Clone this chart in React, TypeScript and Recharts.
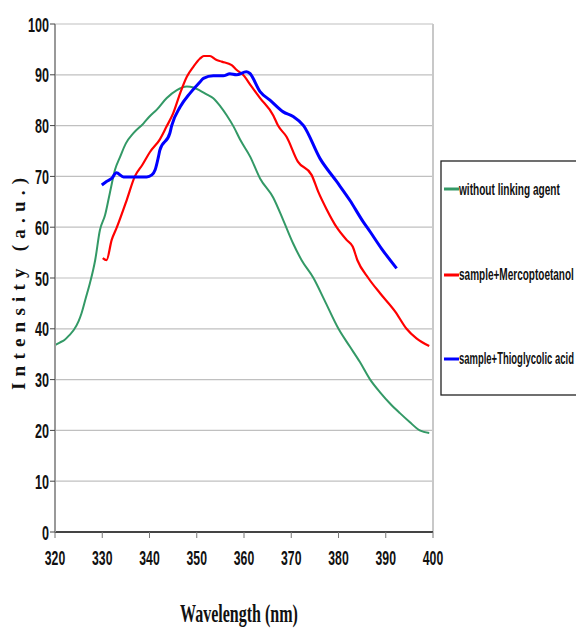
import { useLayoutEffect, useRef, useState } from "react";
import { LineChart, Line, XAxis, YAxis, CartesianGrid, ReferenceLine, Label } from "recharts";

// wavelength (nm) / intensity (a.u.) pairs
const withoutWl = [320, 321, 322, 323, 324, 325, 325.6, 326.5, 327.4, 328.5, 329.5, 330.6, 331.6, 332.7, 333.8, 335, 336.6, 338.7, 340, 341.5, 343.6, 345.8, 347.9, 349.3, 350.7, 352, 353.5, 355, 356.3, 357.8, 359.2, 361.3, 363.4, 366.2, 368.3, 370.4, 372.2, 374.7, 377, 380, 382.4, 384.5, 386.7, 388.8, 390.9, 393, 395, 397.2, 399.2];
const withoutInt = [36.8, 37.3, 37.8, 38.7, 39.8, 41.5, 43, 46, 49, 53.5, 59.4, 62.4, 66.7, 71.3, 73.9, 76.5, 78.5, 80.4, 81.8, 83.1, 85.4, 87, 87.7, 87.5, 86.9, 86.2, 85.4, 83.8, 82.1, 79.8, 77.2, 73.9, 69.6, 65.8, 61.4, 56.8, 53.5, 50, 45.7, 40, 36.5, 33.5, 30, 27.5, 25.3, 23.4, 21.7, 20, 19.5];

const mercWl = [330.1, 330.9, 332, 333.1, 335.2, 336.9, 338.5, 340.1, 342.2, 343.6, 345, 346.5, 347.9, 349.3, 350.7, 351.5, 352.8, 354, 355.3, 357.4, 358.4, 359.8, 361.5, 363.4, 366.2, 367.2, 369, 371.4, 374.3, 375.7, 377.5, 379.6, 381.7, 383, 384, 386.3, 388.8, 392, 394.4, 396.5, 399.2];
const mercInt = [53.9, 53.5, 57.5, 60, 65.4, 70, 72.3, 74.8, 77.3, 79.8, 82.4, 86.4, 89.6, 91.6, 93.2, 93.7, 93.7, 93, 92.6, 91.9, 91, 90, 87.8, 85.4, 82, 80, 77.8, 72.9, 70.3, 67, 63.5, 60, 57.5, 56.2, 53.5, 50, 47, 43.4, 40, 38.1, 36.6];

const thioWl = [329.9, 330.9, 332, 333, 334.5, 337, 339.4, 340.5, 341.2, 341.9, 342.2, 344.3, 344.7, 346.5, 348.6, 350.7, 351.4, 353.5, 355.6, 357, 358.4, 360.5, 361.2, 363.4, 365.5, 368.3, 370.4, 372.6, 376.1, 379.6, 382.4, 385.2, 386.7, 389.1, 392.3];
const thioInt = [68.3, 69, 69.6, 70.7, 69.9, 69.9, 69.9, 70.3, 71.3, 73.9, 75.2, 78.5, 80, 83.7, 86.4, 88.6, 89.3, 89.8, 89.8, 90.2, 90, 90.6, 90.3, 86.7, 85, 82.7, 81.8, 80, 73.5, 69, 65.3, 61.1, 59.1, 55.8, 51.9];

const xTicks = [320, 330, 340, 350, 360, 370, 380, 390, 400];
const yTicks = [0, 10, 20, 30, 40, 50, 60, 70, 80, 90, 100];

const seriesNames = ["without linking agent", "sample+Mercoptoetanol", "sample+Thioglycolic acid"];
const seriesColors = ["#339966", "#ff0000", "#0000ff"];

const toPoints = (wl: number[], v: number[]) => wl.map((w, i) => ({ wl: w, v: v[i] }));

const series = [
    { data: toPoints(withoutWl, withoutInt), width: 2 },
    { data: toPoints(mercWl, mercInt), width: 2.2 },
    { data: toPoints(thioWl, thioInt), width: 3 },
];

const narrow = '"Liberation Sans Narrow", "Liberation Sans", Arial, sans-serif';
const serif = '"Liberation Serif", "Times New Roman", serif';

// svg text squeezed horizontally to a given width (the original uses a condensed face)
const FitText = ({ x, y, width, anchor = "start", children, ...rest }: any) => {
    const ref = useRef<SVGTextElement>(null);
    const [sx, setSx] = useState(1);
    useLayoutEffect(() => {
        if (!ref.current) return;
        const w = ref.current.getComputedTextLength();
        if (w > 0) setSx(width / w);
    }, [width, children]);
    return (
        <text ref={ref} transform={`translate(${x},${y}) scale(${sx},1)`} textAnchor={anchor} {...rest}>
            {children}
        </text>
    );
};

const XTick = ({ x, y, payload }: any) => {
    const s = String(payload.value);
    return (
        <FitText x={x} y={y + 25} width={s.length * 6.8} anchor="middle" fontFamily={narrow}
            fontWeight="bold" fontSize={21} fill="#111">{s}</FitText>
    );
};

const YTick = ({ x, y, payload }: any) => {
    const s = String(payload.value);
    return (
        <FitText x={x} y={y + 7.5} width={s.length * 7} anchor="end" fontFamily={narrow}
            fontWeight="bold" fontSize={21} fill="#111">{s}</FitText>
    );
};

// legend rows: y of the sample line, baseline of the text, text width
const legendRows = [
    { y: 189, base: 195, w: 101 },
    { y: 275, base: 280, w: 115 },
    { y: 359, base: 364, w: 115 },
];

export default function App() {
    return (
        <div style={{ position: "absolute", left: 0, top: 0, width: 576, height: 628, overflow: "hidden", background: "#fff" }}>
            <LineChart width={576} height={628} margin={{ top: 24, right: 143, bottom: 0, left: 0 }}>
                <CartesianGrid vertical={false} stroke="#c0c0c0" strokeWidth={1.2} />
                <XAxis
                    dataKey="wl"
                    type="number"
                    domain={[320, 400]}
                    ticks={xTicks}
                    height={96}
                    tickSize={6}
                    axisLine={{ stroke: "#444", strokeWidth: 2 }}
                    tickLine={{ stroke: "#777" }}
                    tick={<XTick />}
                    allowDataOverflow
                >
                    <Label
                        content={() => (
                            <FitText x={239} y={622} width={118} anchor="middle" fontFamily={serif}
                                fontWeight="bold" fontSize={25} fill="#111">Wavelength (nm)</FitText>
                        )}
                    />
                </XAxis>
                <YAxis
                    type="number"
                    domain={[0, 100]}
                    ticks={yTicks}
                    width={55}
                    tickSize={5}
                    tickMargin={1}
                    axisLine={{ stroke: "#999", strokeWidth: 2 }}
                    tickLine={{ stroke: "#444" }}
                    tick={<YTick />}
                >
                    <Label
                        content={() => (
                            <text transform="translate(25,284) rotate(-90)" textAnchor="middle" fontFamily={serif}
                                fontWeight="bold" fontSize={19} fill="#111" textLength={212} lengthAdjust="spacing">
                                Intensity (a.u.)
                            </text>
                        )}
                    />
                </YAxis>
                <ReferenceLine x={400} stroke="#c8c8c8" strokeWidth={2} />
                {series.map((s, i) => (
                    <Line
                        key={seriesNames[i]}
                        data={s.data}
                        dataKey="v"
                        name={seriesNames[i]}
                        type="monotone"
                        stroke={seriesColors[i]}
                        strokeWidth={s.width}
                        dot={false}
                        isAnimationActive={false}
                    />
                ))}
            </LineChart>
            <svg width={576} height={628} style={{ position: "absolute", left: 0, top: 0, pointerEvents: "none" }}>
                <rect x={441} y={161} width={150} height={234} fill="#fff" stroke="#222" strokeWidth={1.3} />
                {legendRows.map((r, i) => (
                    <g key={i}>
                        <line x1={444} x2={459} y1={r.y} y2={r.y} stroke={seriesColors[i]} strokeWidth={3} />
                        <FitText x={459} y={r.base} width={r.w} fontFamily={narrow} fontWeight="bold"
                            fontSize={17} fill="#111">{seriesNames[i]}</FitText>
                    </g>
                ))}
            </svg>
        </div>
    );
}
